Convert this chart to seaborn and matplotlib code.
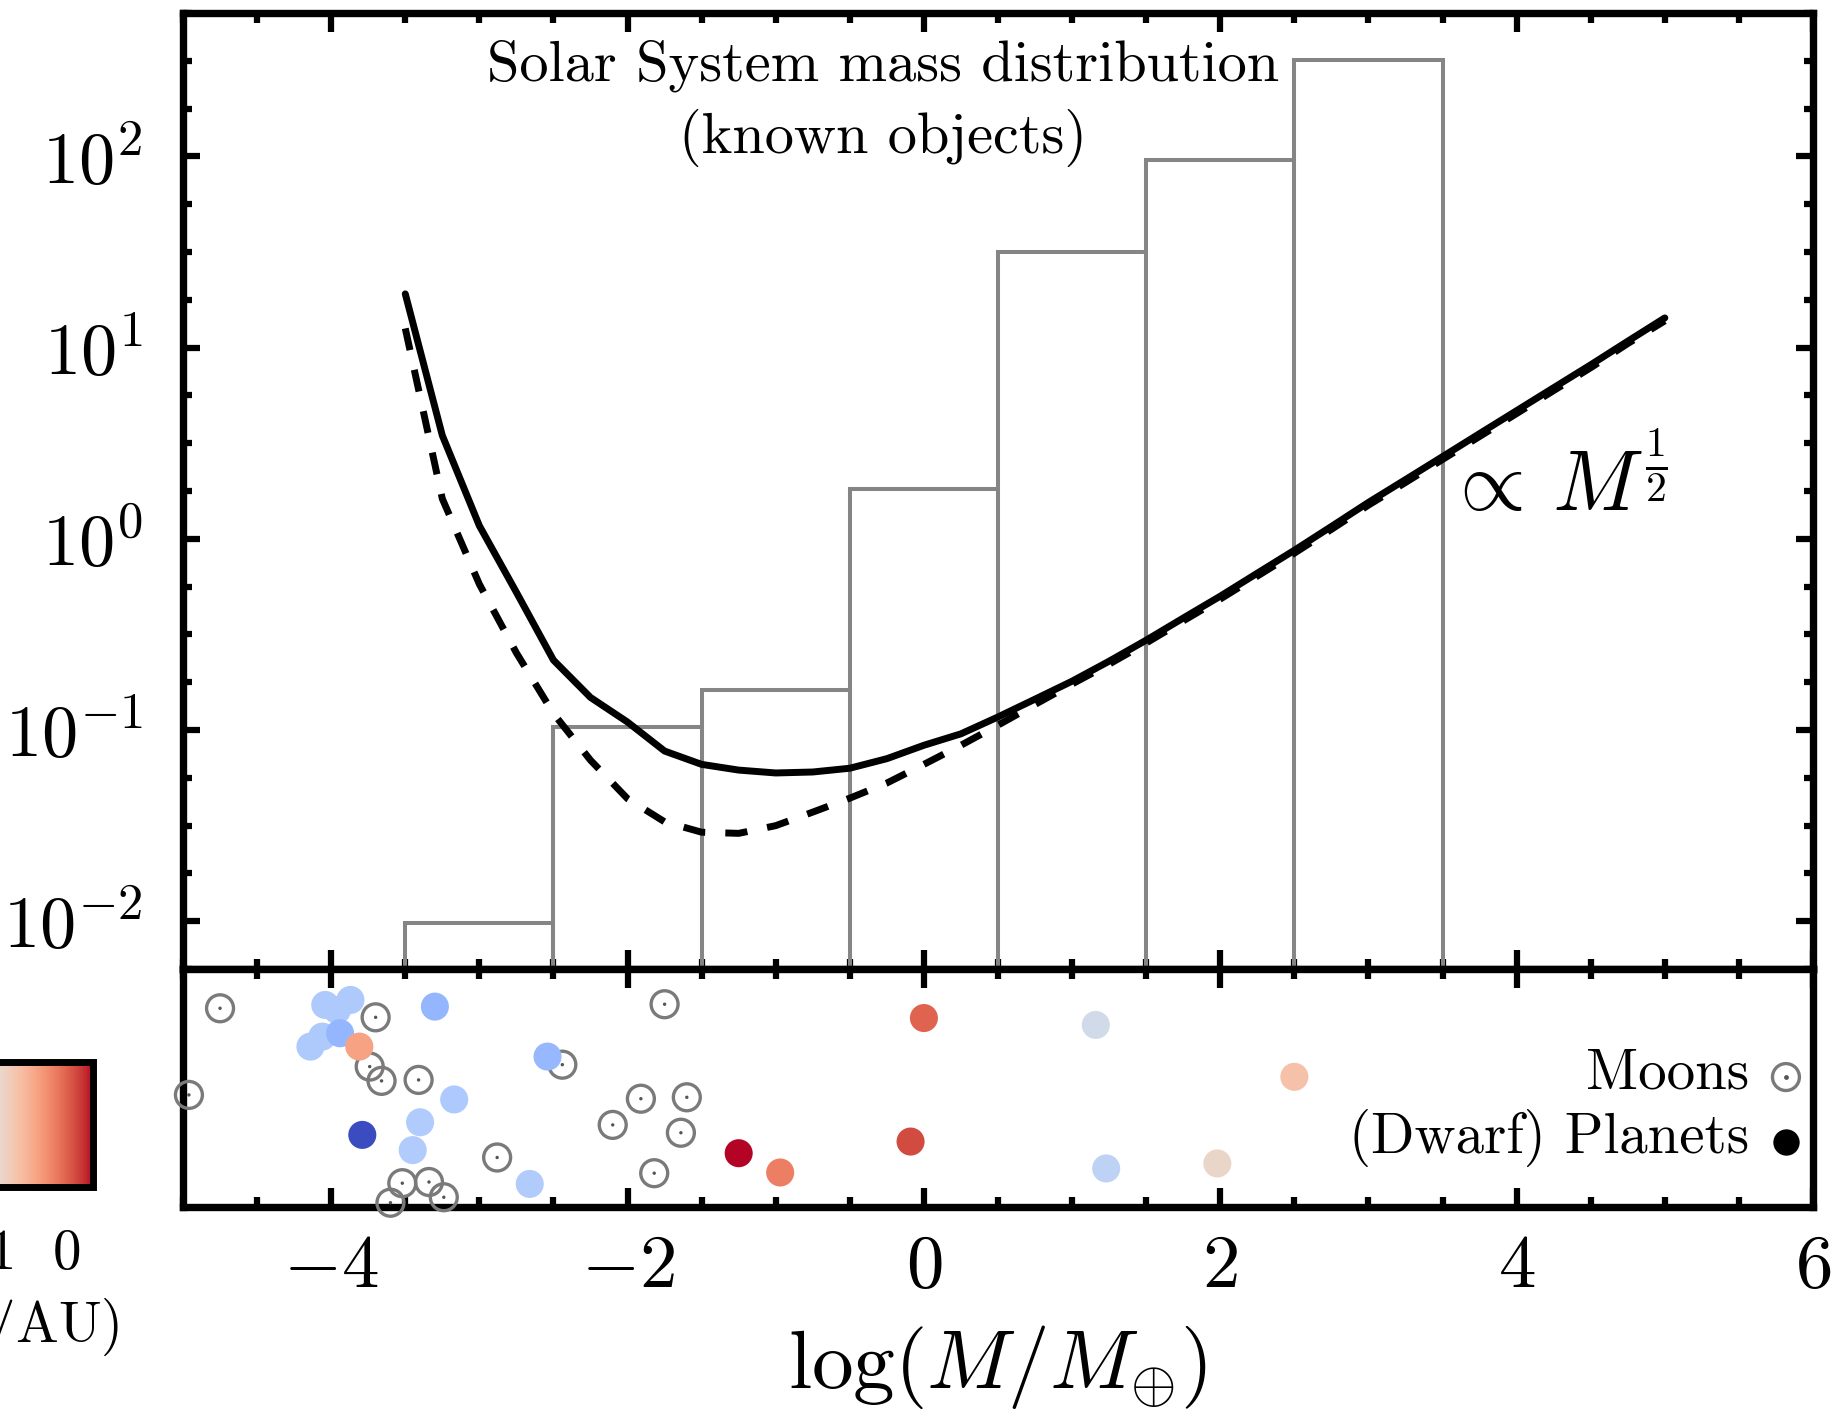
import numpy as np
import matplotlib
matplotlib.use("Agg")
import matplotlib.pyplot as plt
from matplotlib.colors import Normalize
from matplotlib.cm import ScalarMappable
from matplotlib.ticker import (FixedLocator, MultipleLocator, LogLocator,
                               NullFormatter, NullLocator)
import seaborn as sns

# ---- total known mass per bin of log(M / M_earth) ----
bin_edges = [-3.5, -2.5, -1.5, -0.5, 0.5, 1.5, 2.5, 3.5]
bin_mass = [0.0098, 0.104, 0.162, 1.82, 31.6, 95.2, 318.0]

# ---- model curves (solid and dashed) ----
curve_logm = [-3.5, -3.25, -3.0, -2.75, -2.5, -2.25, -2.0, -1.75, -1.5, -1.25,
              -1.0, -0.75, -0.5, -0.25, 0.0, 0.25, 0.5, 0.75, 1.0, 1.25,
              1.5, 1.75, 2.0, 2.25, 2.5, 2.75, 3.0, 3.25, 3.5, 3.75,
              4.0, 4.25, 4.5, 4.75, 5.0]
solid_y = [19.1, 3.47, 1.17, 0.525, 0.232, 0.148, 0.110, 0.0776, 0.0661, 0.0617,
           0.0596, 0.0603, 0.0631, 0.0708, 0.0832, 0.0955, 0.117, 0.145, 0.180, 0.229,
           0.295, 0.385, 0.501, 0.661, 0.871, 1.16, 1.55, 2.04, 2.69, 3.55,
           4.68, 6.17, 8.13, 10.8, 14.3]
dashed_y = [12.6, 1.62, 0.579, 0.253, 0.122, 0.0695, 0.0437, 0.0331, 0.0292, 0.0288,
            0.0316, 0.0372, 0.0440, 0.0528, 0.0661, 0.0832, 0.106, 0.136, 0.174, 0.221,
            0.285, 0.372, 0.484, 0.638, 0.841, 1.12, 1.50, 1.97, 2.60, 3.43,
            4.52, 5.96, 7.85, 10.5, 13.8]

# ---- individual objects (lower strip; vertical position is a spread only) ----
moon_logm = [-4.75, -4.96, -3.70, -3.74, -3.66, -3.41, -2.44, -1.75, -1.91,
             -1.60, -2.10, -1.64, -2.88, -1.82, -3.52, -3.34, -3.24, -3.60]
moon_jit = [0.835, 0.471, 0.797, 0.590, 0.530, 0.534, 0.598, 0.852, 0.455,
            0.461, 0.345, 0.312, 0.208, 0.142, 0.100, 0.105, 0.041, 0.018]

planet_logm = [-4.04, -3.96, -3.87, -4.06, -4.14, -3.94, -3.81, -3.30, -2.54,
               -3.17, -3.40, -3.79, -3.45, -2.66, -1.25, -0.97, -0.09, 0.00,
               2.50, 1.98, 1.16, 1.23]
planet_jit = [0.849, 0.828, 0.870, 0.716, 0.674, 0.730, 0.674, 0.842, 0.632,
              0.452, 0.356, 0.303, 0.239, 0.097, 0.226, 0.145, 0.275, 0.794,
              0.547, 0.183, 0.765, 0.162]
planet_loga = [1.62, 1.62, 1.62, 1.62, 1.62, 1.86, 0.44, 1.86, 1.83,
               1.64, 1.60, 2.70, 1.60, 1.60, -0.41, 0.18, -0.14, 0.00,
               0.72, 0.98, 1.28, 1.48]
loga_range = (-0.41, 2.70)

xticks = [-4, -2, 0, 2, 4, 6]
cbar_ticks = [0, 1, 2]

# ---- style ----
sns.set_style("ticks")
plt.rcParams.update({
    "font.family": "serif",
    "font.serif": ["cmr10"],
    "mathtext.fontset": "cm",
    "axes.formatter.use_mathtext": True,
    "axes.edgecolor": "black",
    "text.color": "black",
    "axes.labelcolor": "black",
    "xtick.color": "black",
    "ytick.color": "black",
})

GRAY = "#858585"
fig = plt.figure(figsize=(18.34, 14.10), dpi=100)
ax = fig.add_axes([0.09978, 0.31277, 0.88877, 0.67801])
axb = fig.add_axes([0.09978, 0.14397, 0.88877, 0.16879], sharex=ax)
cax = fig.add_axes([-0.0611, 0.1582, 0.1118, 0.0887])

# ---- upper panel: histogram + curves ----
ax.set_yscale("log")
edges = np.asarray(bin_edges)
centres = 0.5 * (edges[:-1] + edges[1:])
sns.histplot(x=centres, weights=bin_mass, bins=bin_edges, element="bars",
             fill=False, color=GRAY, linewidth=2.9, ax=ax)
sns.lineplot(x=curve_logm, y=solid_y, color="black", lw=5.0, estimator=None,
             ax=ax, zorder=3)
sns.lineplot(x=curve_logm, y=dashed_y, color="black", lw=5.0, estimator=None,
             linestyle=(0, (3.2, 2.9)), ax=ax, zorder=3)

ax.set_xlim(-5, 6)
ax.set_ylim(10 ** -2.25, 10 ** 2.75)
ax.set_xlabel("")
ax.set_ylabel("")
ax.yaxis.set_major_locator(LogLocator(base=10, numticks=20))
ax.yaxis.set_minor_locator(FixedLocator(
    [10 ** (d + q / 4) for d in range(-3, 3) for q in (1, 2, 3)]))
ax.yaxis.set_minor_formatter(NullFormatter())
ax.tick_params(axis="y", which="both", direction="in", left=True, right=True,
               width=4.5, labelsize=52, pad=29)
ax.tick_params(axis="y", which="major", length=12.4)
ax.tick_params(axis="y", which="minor", length=6.3)

ax.text(0.4294, 0.9299, "Solar System mass distribution", ha="center",
        va="baseline", fontsize=42, transform=ax.transAxes)
ax.text(0.4294, 0.8536, "(known objects)", ha="center", va="baseline",
        fontsize=42, transform=ax.transAxes)
ax.text(0.7745, 0.4791, r"$\propto\,M^{\frac{1}{2}}$", ha="left",
        va="baseline", fontsize=61, transform=ax.transAxes)

# ---- lower panel: individual objects ----
sns.scatterplot(x=moon_logm, y=moon_jit, s=376, color="none",
                edgecolor="#7a7a7a", linewidth=2.4, clip_on=False, zorder=3,
                legend=False, ax=axb)
sns.scatterplot(x=moon_logm, y=moon_jit, s=6, color="#555555",
                edgecolor="none", clip_on=False, zorder=3.1, legend=False, ax=axb)
sns.scatterplot(x=planet_logm, y=planet_jit, hue=planet_loga,
                palette="coolwarm_r", hue_norm=loga_range, s=408,
                edgecolor="none", linewidth=0, clip_on=False, zorder=4,
                legend=False, ax=axb)

# key for the lower panel
axb.scatter([0.9834], [0.546], s=376, facecolors="none", edgecolors="#7a7a7a",
            linewidths=2.4, transform=axb.transAxes, clip_on=False, zorder=5)
axb.scatter([0.9834], [0.546], s=6, c="#555555", transform=axb.transAxes,
            clip_on=False, zorder=5)
axb.scatter([0.9834], [0.273], s=360, c="black", linewidths=0,
            transform=axb.transAxes, clip_on=False, zorder=5)
axb.text(0.9607, 0.50, "Moons", ha="right", va="baseline", fontsize=41,
         transform=axb.transAxes)
axb.text(0.9607, 0.2269, "(Dwarf) Planets", ha="right", va="baseline",
         fontsize=41, transform=axb.transAxes)

axb.set_ylim(0, 1)
axb.yaxis.set_major_locator(NullLocator())
axb.set_ylabel("")
axb.set_xlabel(r"$\log(M/M_{\oplus})$", fontsize=60, labelpad=15)

for a in (ax, axb):
    a.xaxis.set_major_locator(FixedLocator(xticks))
    a.xaxis.set_minor_locator(MultipleLocator(0.5))
    a.tick_params(axis="x", which="both", direction="in", top=True,
                  bottom=True, width=4.5)
    a.tick_params(axis="x", which="major", length=13.5)
    a.tick_params(axis="x", which="minor", length=7)
    for sp in a.spines.values():
        sp.set_linewidth(5.3)
        sp.set_color("black")
ax.tick_params(axis="x", labelbottom=False)
axb.tick_params(axis="x", labelsize=54, pad=20)
axb.set_xlim(-5, 6)

# ---- colour bar for log semi-major axis ----
sm = ScalarMappable(norm=Normalize(*loga_range), cmap="coolwarm_r")
cb = fig.colorbar(sm, cax=cax, orientation="horizontal")
cax.invert_xaxis()
cb.set_ticks(cbar_ticks)
cax.xaxis.set_minor_locator(NullLocator())
cb.outline.set_linewidth(5.0)
cax.tick_params(axis="x", which="both", direction="in", top=True, bottom=True,
                length=11, width=4.5, labelsize=41, pad=30)
cb.set_label(r"$\log(a/\mathrm{AU})$", fontsize=41, labelpad=12)

fig.savefig("out.png", dpi=100)
